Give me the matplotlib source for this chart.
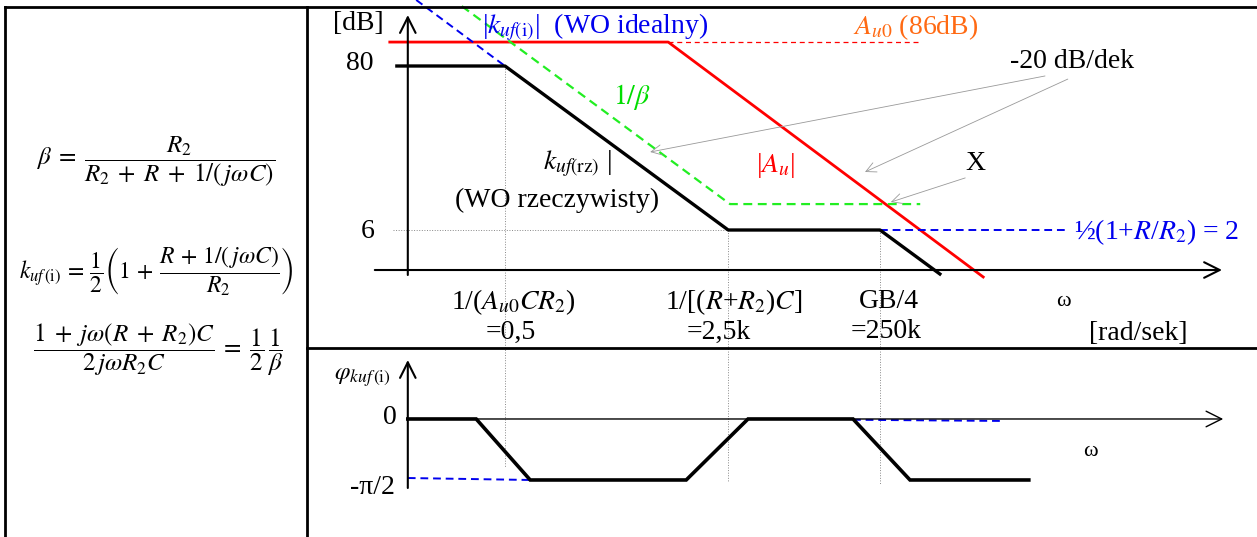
import numpy as np
import matplotlib
matplotlib.use("Agg")
import matplotlib.pyplot as plt

plt.rcParams["font.family"] = ["Liberation Serif", "DejaVu Serif"]
plt.rcParams["mathtext.fontset"] = "stix"

PI = np.pi

# --- magnitude (x = schematic log10(omega) in decades, y = dB) ---
krz_x = [-2.13, -0.30, 3.42, 5.95, 6.97]      # |k_uf(rz)|, real op-amp
krz_db = [80, 80, 6, 6, -14.3]
au_x = [-2.22, 2.42, 7.67]                    # |A_u|
au_db = [90.8, 90.8, -15.2]
au0_x = [2.42, 6.62]                          # A_u0 level, dashed
au0_db = [90.8, 90.8]
beta_x = [-1.02, 3.45, 6.62]                  # 1/beta
beta_db = [107.0, 17.7, 17.7]
ideal_x = [-1.78, -0.30]                      # |k_uf(i)|, ideal op-amp
ideal_db = [109.8, 80]
ideal_hf_x = [5.95, 9.07]
ideal_hf_db = [6, 6]
breaks_x = [-0.30, 3.42, 5.95]
breaks_db = [80, 6, 6]
guide_bottom = [-100.9, -107.7, -109.1]

# --- phase (radians) ---
ph_x = [-1.92, -0.78, 0.12, 2.72, 3.75, 5.50, 6.45, 8.43]
ph_val = [0, 0, -PI / 2, -PI / 2, 0, 0, -PI / 2, -PI / 2]
ph_lo_x = [-1.92, 0.12]
ph_lo_val = [-1.52, -PI / 2]
ph_hi_x = [5.50, 7.95]
ph_hi_val = [-0.02, -0.05]

W, H = 1257, 537
fig = plt.figure(figsize=(W / 100, H / 100), dpi=100)

axm = fig.add_axes([307 / W, (H - 348) / H, 950 / W, 348 / H])
axm.set_xlim(-3.6, 12.233)
axm.set_ylim(-47.24, 109.78)
axm.axis("off")

axp = fig.add_axes([307 / W, 0, 950 / W, 189 / H])
axp.set_xlim(-3.6, 12.233)
axp.set_ylim(-3.039, 1.828)
axp.axis("off")

lay = fig.add_axes([0, 0, 1, 1])
lay.set_xlim(0, W)
lay.set_ylim(H, 0)
lay.axis("off")
lay.patch.set_alpha(0)

arr = dict(arrowstyle="->", color="black", lw=1.5, mutation_scale=28,
           shrinkA=0, shrinkB=0)

# magnitude axes
axm.annotate("", xy=(-1.92, 103.0), xytext=(-1.92, -14.3), arrowprops=arr)
axm.annotate("", xy=(11.65, -12.05), xytext=(-2.47, -12.05), arrowprops=arr)

# guides
for bx, bd, bb in zip(breaks_x, breaks_db, guide_bottom):
    axm.plot([bx, bx], [bd, bb], color="#888888", lw=0.7, ls=":", clip_on=False)
axm.plot([-2.17, 3.42], [6, 6], color="#888888", lw=0.7, ls=":")

axm.plot(au0_x, au0_db, color="red", lw=0.9, ls=(0, (4, 3)))
axm.plot(au_x, au_db, color="red", lw=2.0)
axm.plot(beta_x, beta_db, color="#22EE22", lw=1.6, ls=(0, (4, 2.5)))
axm.plot(ideal_x, ideal_db, color="#0000EE", lw=1.4, ls=(0, (4, 2.5)))
axm.plot(ideal_hf_x, ideal_hf_db, color="#0000EE", lw=1.4, ls=(0, (4, 2.5)))
axm.plot(krz_x, krz_db, color="black", lw=2.4, solid_capstyle="butt")

ann = dict(arrowstyle="->", color="#999999", lw=0.6, mutation_scale=18,
           shrinkA=0, shrinkB=0)
axm.annotate("", xy=(2.12, 41.2), xytext=(8.7, 75.5), arrowprops=ann)
axm.annotate("", xy=(5.7, 32.2), xytext=(9.08, 74.1), arrowprops=ann)
axm.annotate("", xy=(6.13, 18.6), xytext=(7.37, 29.5), arrowprops=ann)

# phase axes
axp.annotate("", xy=(-1.92, 1.519), xytext=(-1.92, -1.777), arrowprops=arr)
axp.annotate("", xy=(11.67, 0), xytext=(-1.92, 0),
             arrowprops=dict(arr, lw=1.0))
axp.plot(ph_lo_x, ph_lo_val, color="#0000EE", lw=1.4, ls=(0, (4, 2.5)))
axp.plot(ph_hi_x, ph_hi_val, color="#0000EE", lw=1.4, ls=(0, (4, 2.5)))
axp.plot(ph_x, ph_val, color="black", lw=2.6, solid_joinstyle="miter")

# table frame
fr = dict(color="black", lw=2.0)
lay.plot([5, W], [7, 7], **fr)
lay.plot([5, 5], [7, H], **fr)
lay.plot([307, 307], [7, H], **fr)
lay.plot([307, W], [348, 348], **fr)

# formulas
fs_f = 18
lay.text(156, 162,
         r"$\beta\;=\;\dfrac{R_2}{R_2\;+\;R\;+\;1/(\,j\omega C)}$",
         fontsize=fs_f, ha="center", va="center")
lay.text(156, 272,
         r"$k_{uf\,(\mathrm{i})}\,=\,\dfrac{1}{2}\left(1\,+\,\dfrac{R\,+\,1/(\,j\omega C)}{R_2}\right)$",
         fontsize=17, ha="center", va="center")
lay.text(158, 350,
         r"$\dfrac{1\;+\;j\omega(R\;+\;R_2)C}{2\,j\omega R_2 C}\;=\;\dfrac{1}{2}\,\dfrac{1}{\beta}$",
         fontsize=fs_f, ha="center", va="center")

fs = 20
lay.text(358, 24, "[dB]", fontsize=fs, ha="center", va="center")
lay.text(360, 63, "80", fontsize=fs, ha="center", va="center")
lay.text(368, 232, "6", fontsize=fs, ha="center", va="center")
lay.text(482, 27, r"|$k_{uf(\mathrm{i})}$|  (WO idealny)", fontsize=fs,
         color="#0000EE", ha="left", va="center")
lay.text(853, 27, r"$A_{u0}$ (86dB)", fontsize=fs, color="#FF6A13",
         ha="left", va="center")
lay.text(1072, 62, "-20 dB/dek", fontsize=fs, ha="center", va="center")
lay.text(632, 97, r"$1/\beta$", fontsize=fs, color="#00DD00",
         ha="center", va="center")
lay.text(578, 164, r"$k_{uf(\mathrm{rz})}$ |", fontsize=fs, ha="center",
         va="center")
lay.text(557, 200, "(WO rzeczywisty)", fontsize=fs, ha="center", va="center")
lay.text(775, 166, r"|$A_u$|", fontsize=fs, color="red", ha="center",
         va="center")
lay.text(975, 163, "X", fontsize=fs, ha="center", va="center")
lay.text(1074, 232, r"½(1+$R$/$R_2$) = 2", fontsize=fs, color="#0000EE",
         ha="left", va="center")

lay.text(513, 302, r"1/($A_{u0}CR_2$)", fontsize=fs, ha="center", va="center")
lay.text(511, 332, "=0,5", fontsize=fs, ha="center", va="center")
lay.text(734, 302, r"1/[($R$+$R_2$)$C$]", fontsize=fs, ha="center",
         va="center")
lay.text(719, 332, "=2,5k", fontsize=fs, ha="center", va="center")
lay.text(889, 302, "GB/4", fontsize=fs, ha="center", va="center")
lay.text(886, 332, "=250k", fontsize=fs, ha="center", va="center")
lay.text(1063, 302, "ω", fontsize=16, ha="center", va="center")
lay.text(1138, 333, "[rad/sek]", fontsize=fs, ha="center", va="center")

lay.text(362, 378, r"$\varphi_{kuf\,(\mathrm{i})}$", fontsize=18,
         ha="center", va="center")
lay.text(390, 417, "0", fontsize=fs, ha="center", va="center")
lay.text(372, 488, "-π/2", fontsize=fs, ha="center", va="center")
lay.text(1090, 452, "ω", fontsize=16, ha="center", va="center")

fig.savefig("out.png", dpi=100)
